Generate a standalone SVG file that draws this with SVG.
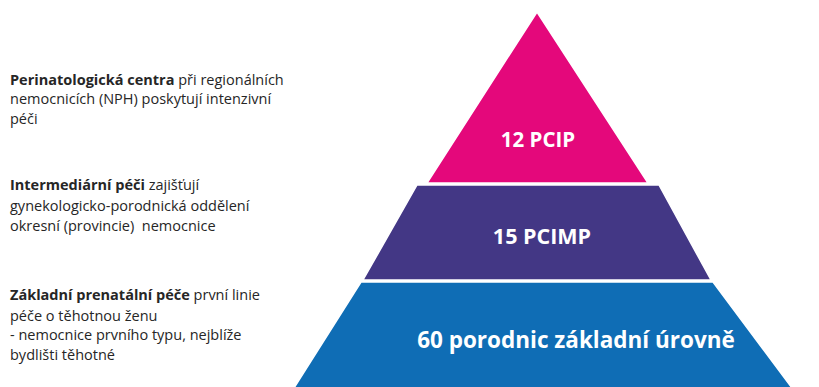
<svg xmlns="http://www.w3.org/2000/svg" width="819" height="387" viewBox="0 0 819 387">
<style>
.lbl{font-family:"Open Sans","Liberation Sans",sans-serif;font-size:14.5px;fill:#262626}
.b{font-weight:bold}
.tier{font-family:"Open Sans","Liberation Sans",sans-serif;font-weight:bold;fill:#ffffff;text-anchor:middle}
.band{stroke:#ffffff;stroke-width:1.5;stroke-linejoin:miter}
</style>
<rect width="819" height="387" fill="#ffffff"/>
<g id="tier-top">
<polygon class="band" points="537,12 648,183 427,183" fill="#E4087B"/>
<text class="tier" x="538" y="147" font-size="20.5">12 PCIP</text>
</g>
<g id="tier-middle">
<polygon class="band" points="417,185 659,185 711,280 363,280" fill="#433785"/>
<text class="tier" x="542" y="244" font-size="21.5">15 PCIMP</text>
</g>
<g id="tier-bottom">
<polygon class="band" points="361,282 713,282 792,388 294,388" fill="#0F6DB5"/>
<text class="tier" x="576" y="348" font-size="22.5">60 porodnic základní úrovně</text>
</g>
<g id="label-top">
<text class="lbl" x="10" y="85"><tspan class="b">Perinatologická centra</tspan> při regionálních</text>
<text class="lbl" x="10" y="104">nemocnicích (NPH) poskytují intenzivní</text>
<text class="lbl" x="10" y="124">péči</text>
</g>
<g id="label-middle">
<text class="lbl" x="10" y="190"><tspan class="b">Intermediární péči</tspan> zajišťují</text>
<text class="lbl" x="10" y="211">gynekologicko-porodnická oddělení</text>
<text class="lbl" x="10" y="231">okresní (provincie)&#160; nemocnice</text>
</g>
<g id="label-bottom">
<text class="lbl" x="10" y="300"><tspan class="b">Základní prenatální péče</tspan> první linie</text>
<text class="lbl" x="10" y="321">péče o těhotnou ženu</text>
<text class="lbl" x="10" y="340">- nemocnice prvního typu, nejblíže</text>
<text class="lbl" x="10" y="360">bydlišti těhotné</text>
</g>
<g id="connectors"></g>
</svg>
